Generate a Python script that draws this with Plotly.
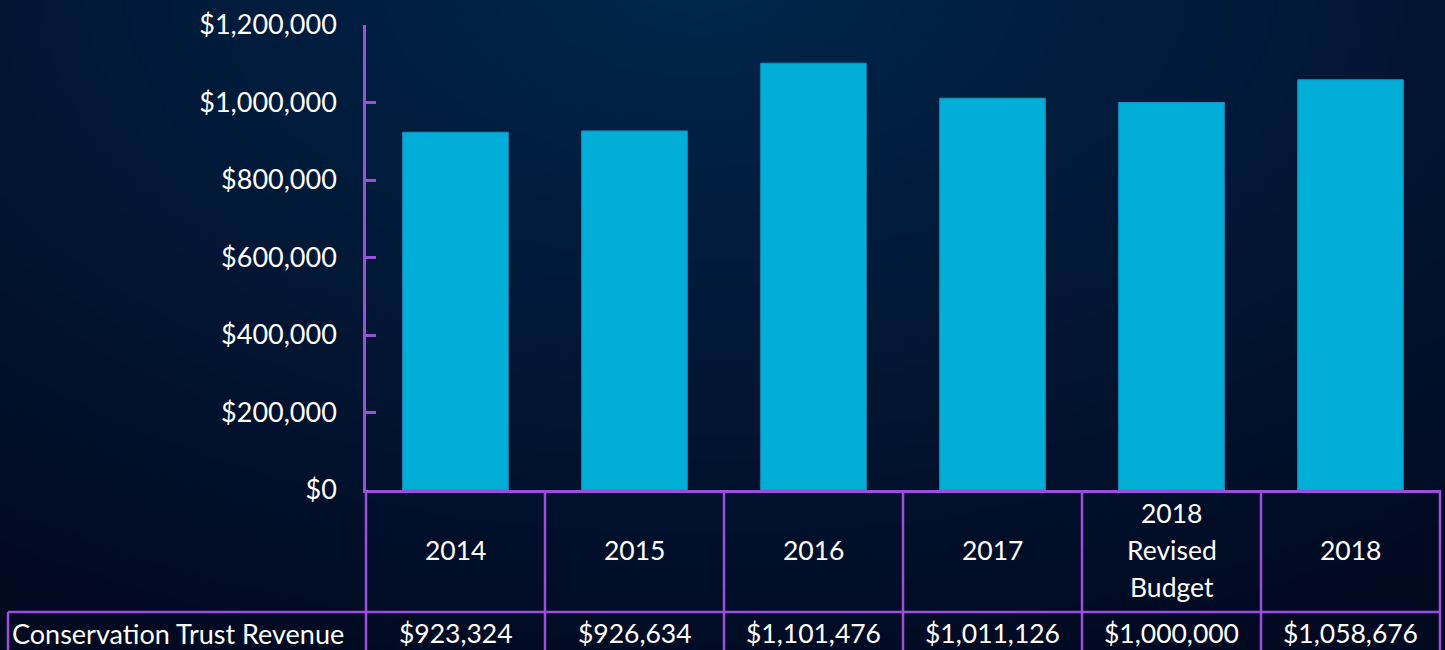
import base64, struct, zlib
import numpy as np
import plotly.graph_objects as go

categories = ["2014", "2015", "2016", "2017", "2018<br>Revised<br>Budget", "2018"]
revenue = [923324, 926634, 1101476, 1011126, 1000000, 1058676]
row_label = "Conservation Trust Revenue"
y_ticks = [0, 200000, 400000, 600000, 800000, 1000000, 1200000]
y_tick_text = [f"${v:,}" for v in y_ticks]

W, H = 1445, 650
ML, MR, MT, MB = 366, 5, 25, 160
PW, PH = W - ML - MR, H - MT - MB
PURPLE = "#9b50dc"
BAR = "#00aed7"
FONT = "Lato"
TSIZE = 26.5
TICKSIZE = 27

# --- background radial gradient as PNG ---
def make_png(arr):
    h, w, _ = arr.shape
    raw = b"".join(b"\x00" + arr[r].tobytes() for r in range(h))
    def chunk(t, d):
        c = struct.pack(">I", len(d)) + t + d
        return c + struct.pack(">I", zlib.crc32(t + d) & 0xffffffff)
    png = b"\x89PNG\r\n\x1a\n"
    png += chunk(b"IHDR", struct.pack(">IIBBBBB", w, h, 8, 2, 0, 0, 0))
    png += chunk(b"IDAT", zlib.compress(raw, 9))
    png += chunk(b"IEND", b"")
    return "data:image/png;base64," + base64.b64encode(png).decode()

s = 5
gw, gh = W // s + 1, H // s + 1
yy, xx = np.mgrid[0:gh, 0:gw].astype(float) * s
cx, cy = 700.0, -20.0
t = np.sqrt(((xx - cx) / 1250.0) ** 2 + ((yy - cy) / 720.0) ** 2)
t = np.clip(t, 0, 1) ** 0.9
inner = np.array([0, 40, 78], float)
outer = np.array([2, 10, 34], float)
img = (inner[None, None, :] * (1 - t[..., None]) + outer[None, None, :] * t[..., None])
img = np.clip(img, 0, 255).astype(np.uint8)
bg_src = make_png(img)

x_pos = list(range(len(categories)))
n = len(categories)

fig = go.Figure()
fig.add_trace(go.Bar(
    x=x_pos, y=revenue, width=0.59,
    marker=dict(color=BAR, line=dict(color="#1590c0", width=1)),
    hoverinfo="skip",
))

def px_to_paper_y(py):
    return (H - MB - py) / PH

y_top = 0
y_mid = px_to_paper_y(612)
y_bot = px_to_paper_y(660)
left_x = -2 / n

shapes = []
shapes.append(dict(type="line", xref="paper", yref="paper", x0=left_x, x1=1, y0=y_mid, y1=y_mid,
                   line=dict(color=PURPLE, width=2.5)))
for i in range(n + 1):
    xb = i / n
    shapes.append(dict(type="line", xref="paper", yref="paper", x0=xb, x1=xb, y0=y_top, y1=y_bot,
                       line=dict(color=PURPLE, width=2.5)))
shapes.append(dict(type="line", xref="paper", yref="paper", x0=left_x, x1=left_x, y0=y_mid, y1=y_bot,
                   line=dict(color=PURPLE, width=2.5)))

annotations = []
hdr_y = px_to_paper_y(550)
row_y = px_to_paper_y(633)
for i, (c, v) in enumerate(zip(categories, revenue)):
    xc = (i + 0.5) / n
    lines = c.split("<br>")
    k = len(lines)
    for j, ln in enumerate(lines):
        annotations.append(dict(x=xc, y=hdr_y, xref="paper", yref="paper", text=ln,
                                showarrow=False, xanchor="center", yanchor="middle",
                                yshift=(k - 1) / 2 * 37 - j * 37,
                                font=dict(family=FONT, size=TSIZE, color="white")))
    annotations.append(dict(x=xc, y=row_y, xref="paper", yref="paper", text=f"${v:,}",
                            showarrow=False, xanchor="center", yanchor="middle",
                            font=dict(family=FONT, size=TSIZE, color="white")))
annotations.append(dict(x=left_x, y=row_y, xref="paper", yref="paper", text=row_label,
                        showarrow=False, xanchor="left", yanchor="middle", xshift=2,
                        font=dict(family=FONT, size=TSIZE + 0.5, color="white")))

fig.update_layout(
    width=W, height=H,
    margin=dict(l=ML, r=MR, t=MT, b=MB, autoexpand=False),
    paper_bgcolor="#020a22", plot_bgcolor="rgba(0,0,0,0)",
    showlegend=False,
    font=dict(family=FONT, size=TSIZE, color="white"),
    shapes=shapes, annotations=annotations,
    images=[dict(source=bg_src, xref="paper", yref="paper",
                 x=-ML / PW, y=1 + MT / PH, sizex=W / PW, sizey=H / PH,
                 xanchor="left", yanchor="top", sizing="stretch", layer="below")],
    xaxis=dict(range=[-0.5, n - 0.5], showticklabels=False, ticks="", showgrid=False,
               zeroline=False, showline=True, linecolor=PURPLE, linewidth=2.5, fixedrange=True),
    yaxis=dict(range=[0, 1200000], tickmode="array", tickvals=y_ticks, ticktext=y_tick_text,
               showgrid=False, zeroline=False, showline=True, linecolor=PURPLE, linewidth=2.5,
               ticks="inside", ticklen=10, tickwidth=2.5, tickcolor=PURPLE,
               ticklabelstandoff=21, tickfont=dict(family=FONT, size=TICKSIZE, color="white"),
               fixedrange=True),
)

fig.write_html("out.html", config={"displayModeBar": False},
               post_script="document.body.style.margin='0';document.body.style.background='#020a22';")
